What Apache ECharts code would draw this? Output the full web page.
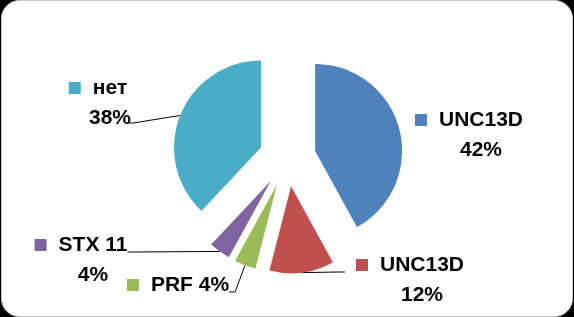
<!DOCTYPE html>
<html>
<head>
<meta charset="utf-8">
<script src="https://cdn.jsdelivr.net/npm/echarts@6/dist/echarts.min.js"></script>
<style>
html,body{margin:0;padding:0;background:#000;}
#c{width:574px;height:317px;}
</style>
</head>
<body>
<div id="c"></div>
<script>
// ---- data ----
const categories = ['UNC13D', 'UNC13D', 'PRF', 'STX 11', 'нет'];
const values = [42, 12, 4, 4, 38];
const twoLineLabel = [true, true, false, true, true];
const showLeader = [false, true, true, true, true];

// ---- styles / layout ----
const colors = ['#4F81BD', '#C0504D', '#9BBB59', '#8064A2', '#4BACC6'];
const labelAnchors = [[469, 105], [410, 250], [178, 270], [81, 230], [98, 73]];
// leader attachment: [side of label box, y offset from label top, gap from box edge]
const leaderAttach = [null, ['left', 22, 11], ['right', 22, 0], ['right', 22, 0], ['right', 50, 0]];
const FONT = 'Liberation Sans, Arial, sans-serif';
const PIE_CENTER = [287.5, 158];
const PIE_RADIUS = 87;
const EXPLODE = 28.5;

const rich = {
  sp: { width: 12, height: 12 },
  sp2: { width: 24, height: 12 },
  t: { fontSize: 21, fontWeight: 'bold', fontFamily: FONT, color: '#000', lineHeight: 30 }
};
colors.forEach((c, i) => {
  rich['sq' + i] = { width: 12, height: 12, backgroundColor: c, lineHeight: 30 };
});

const total = values.reduce((a, b) => a + b, 0);
let cum = 0;
const series = values.map((v, k) => {
  const mid = (cum + v / 2) / total * Math.PI * 2;
  cum += v;
  const center = [PIE_CENTER[0] + EXPLODE * Math.sin(mid), PIE_CENTER[1] - EXPLODE * Math.cos(mid)];
  return {
    type: 'pie',
    center: center,
    radius: PIE_RADIUS,
    startAngle: 90,
    clockwise: true,
    silent: true,
    emphasis: { disabled: true },
    data: categories.map((name, i) => ({
      name: name,
      value: values[i],
      itemStyle: { color: i === k ? colors[i] : 'rgba(0,0,0,0)' },
      label: { show: i === k },
      labelLine: { show: i === k && showLeader[i] }
    })),
    label: {
      position: 'outside',
      align: 'center',
      rich: rich,
      formatter: function (p) {
        const i = p.dataIndex;
        if (twoLineLabel[i]) {
          return '{sq' + i + '|}{sp|}{t|' + p.name + '}\n{sp2|}{t|' + p.value + '%}';
        }
        return '{sq' + i + '|}{sp|}{t|' + p.name + ' ' + p.value + '%}';
      }
    },
    labelLine: {
      length: 10,
      length2: 6,
      lineStyle: { color: '#000', width: 1 }
    },
    labelLayout: function (params) {
      const i = params.dataIndex;
      const a = labelAnchors[i];
      const out = { x: a[0], y: a[1], align: 'center', verticalAlign: 'top' };
      const att = leaderAttach[i];
      if (att && params.labelLinePoints) {
        const w = params.labelRect.width;
        const sgn = att[0] === 'right' ? 1 : -1;
        const ex = a[0] + sgn * (w / 2 + att[2]);
        const ey = a[1] + att[1];
        const start = params.labelLinePoints[0];
        out.labelLinePoints = [[start[0], start[1]], [ex + sgn * 6, ey], [ex, ey]];
      }
      return out;
    }
  };
});

const chart = echarts.init(document.getElementById('c'), null, { renderer: 'canvas' });
chart.setOption({
  animation: false,
  backgroundColor: '#000',
  graphic: {
    elements: [{
      type: 'rect',
      z: -10,
      silent: true,
      shape: { x: 1.5, y: 0.5, width: 571, height: 316, r: 18 },
      style: { fill: '#fff', stroke: '#c8c8c8', lineWidth: 1 }
    }]
  },
  series: series
});
</script>
</body>
</html>
